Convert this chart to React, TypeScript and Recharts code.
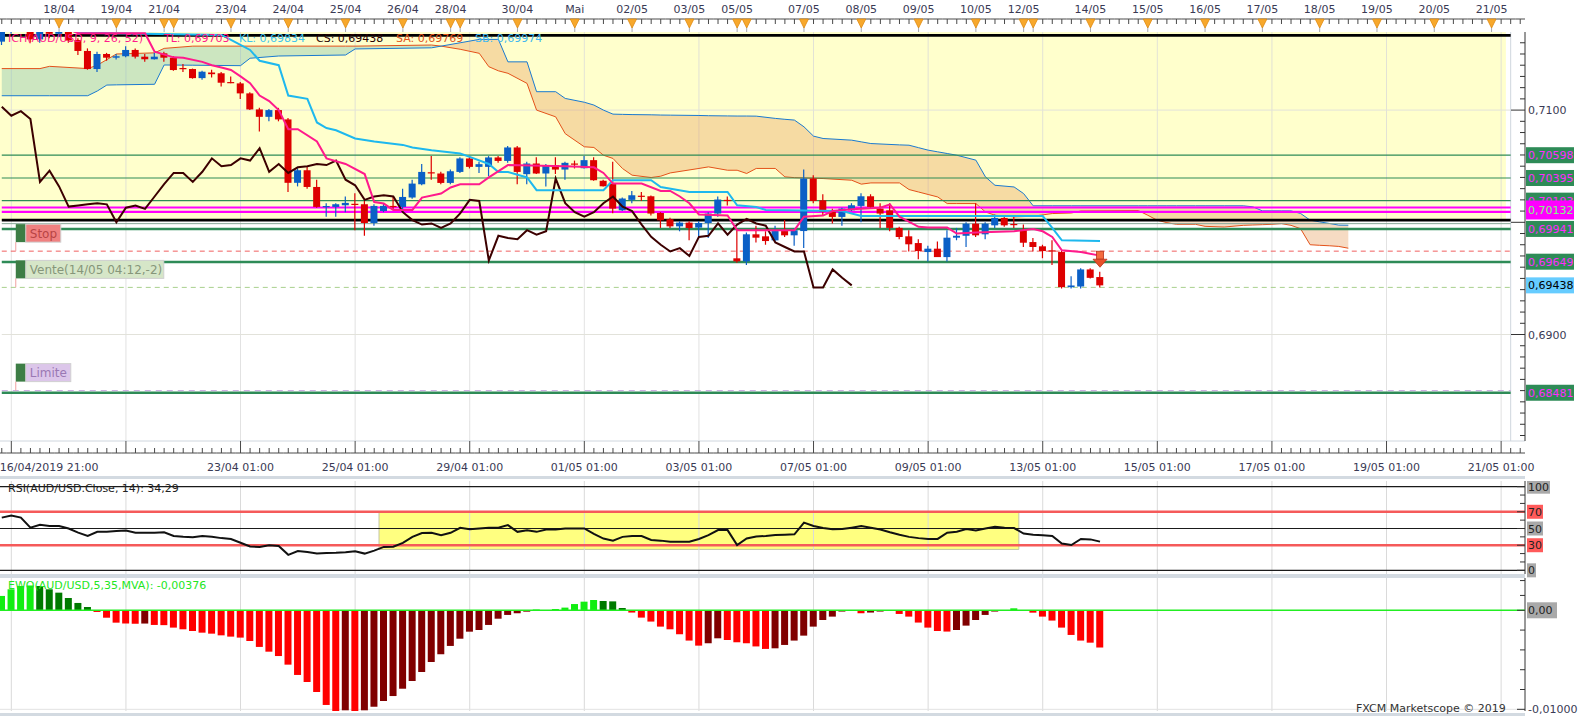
import React from "react";
import {
  ComposedChart,
  Bar,
  Line,
  Area,
  XAxis,
  YAxis,
  ReferenceLine,
  ReferenceArea,
  ReferenceDot,
  Cell,
} from "recharts";

const W = 1583;
const AXIS_W = 58;
const LEFT = -3;
const SLOTS = 160;
const SLOT_W = (W - LEFT - AXIS_W) / SLOTS;
const FONT = "'DejaVu Sans', Verdana, sans-serif";
const TEXT = "#3a3a55";
const PRICE_DOMAIN = [0.68051, 0.71696];

// AUD/USD 4h candles, slot 0 = 16/04/2019 21:00
const opens = [
  0.7161, 0.7172, 0.7176, 0.7178, 0.7163, 0.7172, 0.7168, 0.717, 0.71625, 0.71527,
  0.71366, 0.715, 0.71467, 0.7148, 0.71536, 0.71476, 0.71453, 0.71506, 0.71467, 0.71375,
  0.71366, 0.71285, 0.71335, 0.71328, 0.7125, 0.71238, 0.71149, 0.71006, 0.7094, 0.71,
  0.70917, 0.70352, 0.70464, 0.70315, 0.70135, 0.70137, 0.70152, 0.70165, 0.70161, 0.69994,
  0.70101, 0.70146, 0.70137, 0.70221, 0.70339, 0.70446, 0.70435, 0.70351, 0.70449, 0.70569,
  0.70494, 0.70494, 0.70578, 0.70547, 0.70667, 0.70429, 0.70524, 0.70435, 0.70509, 0.7047,
  0.70524, 0.70482, 0.70554, 0.7037, 0.70345, 0.70107, 0.702, 0.70237, 0.70232, 0.70083,
  0.70027, 0.69964, 0.69997, 0.69953, 0.69994, 0.70078, 0.702, 0.69679, 0.69652, 0.69893,
  0.69875, 0.69839, 0.69922, 0.69884, 0.69922, 0.7039, 0.70196, 0.70107, 0.70048, 0.70107,
  0.70146, 0.70232, 0.70122, 0.70107, 0.6995, 0.69875, 0.69815, 0.69735, 0.69765, 0.6969,
  0.69863, 0.6988, 0.69988, 0.69893, 0.69973, 0.70039, 0.69985, 0.69929, 0.69824, 0.69786,
  0.6975, 0.69735, 0.69422, 0.69428, 0.6958, 0.69512,
];
const highs = [
  0.7175, 0.718, 0.7185, 0.7182, 0.7175, 0.7178, 0.7176, 0.7174, 0.7164, 0.7155,
  0.7152, 0.7151, 0.715, 0.7157, 0.7155, 0.715, 0.7151, 0.7152, 0.7148, 0.7141,
  0.7137, 0.7135, 0.7136, 0.7134, 0.713, 0.7125, 0.7116, 0.7102, 0.7101, 0.7102,
  0.7093, 0.7048, 0.705, 0.7038, 0.7017, 0.7017, 0.7023, 0.7026, 0.7019, 0.7016,
  0.7017, 0.7023, 0.703, 0.7038, 0.7052, 0.7059, 0.7045, 0.7047, 0.7058, 0.7059,
  0.7054, 0.7059, 0.7059, 0.7068, 0.7068, 0.7054, 0.7058, 0.7052, 0.7058, 0.7054,
  0.7055, 0.7059, 0.7058, 0.7038, 0.7054, 0.7022, 0.7028, 0.7027, 0.7024, 0.7009,
  0.7004, 0.7001, 0.7001, 0.7001, 0.7009, 0.7023, 0.7023, 0.6994, 0.6991, 0.6997,
  0.6992, 0.6997, 0.7002, 0.6995, 0.7047, 0.7042, 0.7025, 0.7012, 0.7013, 0.7017,
  0.7026, 0.7025, 0.7017, 0.7017, 0.6996, 0.6993, 0.6985, 0.6979, 0.6983, 0.6993,
  0.6995, 0.7, 0.7017, 0.7, 0.7007, 0.7006, 0.7005, 0.6998, 0.6986, 0.698,
  0.6984, 0.6975, 0.6952, 0.6959, 0.6959, 0.6956,
];
const lows = [
  0.7158, 0.7168, 0.717, 0.716, 0.716, 0.7164, 0.7165, 0.716, 0.7149, 0.7136,
  0.7134, 0.7144, 0.7145, 0.7147, 0.7146, 0.7143, 0.7145, 0.7143, 0.7135, 0.7134,
  0.7128, 0.7127, 0.7129, 0.7121, 0.7124, 0.711, 0.71, 0.7081, 0.709, 0.709,
  0.7027, 0.7032, 0.703, 0.7013, 0.7005, 0.7005, 0.7009, 0.6993, 0.6988, 0.6997,
  0.7009, 0.7011, 0.7009, 0.7021, 0.7033, 0.7038, 0.7034, 0.7034, 0.7044, 0.7048,
  0.7044, 0.7041, 0.7053, 0.7053, 0.7034, 0.7034, 0.7043, 0.7032, 0.7043, 0.7038,
  0.7048, 0.7048, 0.7037, 0.7032, 0.7008, 0.701, 0.7017, 0.7019, 0.7006, 0.6995,
  0.6995, 0.6992, 0.6984, 0.6987, 0.6986, 0.7005, 0.7015, 0.6964, 0.6962, 0.6982,
  0.698, 0.6983, 0.6987, 0.6979, 0.6977, 0.7017, 0.7006, 0.6999, 0.6997, 0.701,
  0.7, 0.7012, 0.6995, 0.6992, 0.6985, 0.6974, 0.6967, 0.6965, 0.6969, 0.6965,
  0.6984, 0.6978, 0.6987, 0.6985, 0.6995, 0.6996, 0.6995, 0.6978, 0.6974, 0.6968,
  0.6962, 0.6941, 0.6941, 0.6941, 0.695, 0.6942,
];
const closes = [
  0.7172, 0.7176, 0.7178, 0.7163, 0.7172, 0.7168, 0.717, 0.7162, 0.71527, 0.71366,
  0.715, 0.71467, 0.7148, 0.71536, 0.71476, 0.71453, 0.71476, 0.71467, 0.71357, 0.71366,
  0.71285, 0.71342, 0.7132, 0.71244, 0.7124, 0.71149, 0.71006, 0.7094, 0.71, 0.70917,
  0.70352, 0.70464, 0.70315, 0.70137, 0.70145, 0.70161, 0.70173, 0.70155, 0.69994, 0.70146,
  0.70146, 0.70137, 0.70226, 0.70345, 0.70449, 0.70437, 0.70351, 0.70455, 0.70569, 0.70494,
  0.70518, 0.70578, 0.70547, 0.70667, 0.70449, 0.70524, 0.70435, 0.70509, 0.7047, 0.7053,
  0.70515, 0.70554, 0.70375, 0.70321, 0.70122, 0.70212, 0.70241, 0.7023, 0.70078, 0.70018,
  0.69964, 0.69997, 0.69949, 0.69994, 0.70078, 0.70203, 0.7019, 0.69652, 0.69893, 0.69863,
  0.69833, 0.69922, 0.69884, 0.69929, 0.7039, 0.7019, 0.70092, 0.70048, 0.70122, 0.70152,
  0.70232, 0.70137, 0.70078, 0.6995, 0.69869, 0.69804, 0.69744, 0.69765, 0.6969, 0.69863,
  0.6988, 0.69988, 0.69884, 0.69988, 0.70039, 0.69973, 0.69979, 0.69818, 0.6978, 0.69744,
  0.69741, 0.69422, 0.69437, 0.6958, 0.69505, 0.69438,
];

// Ichimoku lines as [slot, price]
const tenkanPts = [
  [0, 0.7172], [7, 0.7172], [8, 0.71685], [15, 0.71685], [16, 0.7152], [18, 0.7147], [19, 0.71467],
  [21, 0.7143], [22, 0.714], [23, 0.7138], [24, 0.71357], [25, 0.713], [26, 0.7124], [27, 0.7113],
  [28, 0.7108], [29, 0.71], [30, 0.7083], [31, 0.7083], [33, 0.7072], [34, 0.7057], [36, 0.7052],
  [38, 0.7043], [39, 0.7018], [40, 0.70167], [41, 0.7011], [43, 0.7011], [44, 0.7022], [46, 0.70256],
  [47, 0.7031], [48, 0.70339], [50, 0.70339], [51, 0.704], [53, 0.7051], [59, 0.705], [62, 0.7049],
  [63, 0.7044], [64, 0.70345], [67, 0.70345], [69, 0.7028], [70, 0.7028], [71, 0.7023], [72, 0.7017],
  [73, 0.7007], [76, 0.7006], [77, 0.6993], [83, 0.6993], [84, 0.7005], [86, 0.7006], [87, 0.701],
  [89, 0.70116], [92, 0.7013], [93, 0.7016], [94, 0.7005], [96, 0.6996], [97, 0.69953], [99, 0.69953],
  [100, 0.699], [102, 0.6991], [106, 0.6992], [108, 0.6994], [109, 0.6992], [110, 0.6987],
  [111, 0.6975], [113, 0.69735], [115, 0.69703],
];
const kijunPts = [
  [0, 0.7172], [7, 0.7172], [8, 0.7169], [23, 0.7167], [24, 0.71625], [26, 0.71536], [27, 0.7144],
  [29, 0.714], [30, 0.7113], [32, 0.711], [33, 0.7089], [34, 0.7084], [35, 0.7082], [37, 0.70747],
  [39, 0.7072], [42, 0.7069], [43, 0.70667], [45, 0.70643], [48, 0.70613], [49, 0.70583], [51, 0.7052],
  [52, 0.70449], [53, 0.70449], [55, 0.704], [56, 0.70286], [63, 0.70286], [64, 0.70375], [68, 0.70375],
  [69, 0.70315], [72, 0.7027], [76, 0.7027], [77, 0.70152], [79, 0.70137], [80, 0.7011], [88, 0.701],
  [90, 0.70056], [109, 0.70056], [110, 0.6995], [111, 0.69839], [115, 0.69834],
];
const chikou = [
  0.7103, 0.7095, 0.7099, 0.7092, 0.7036, 0.7046, 0.7032, 0.7014, 0.7015, 0.7016,
  0.7017, 0.7016, 0.7, 0.7013, 0.7015, 0.7012, 0.7023, 0.7034, 0.7044, 0.7044,
  0.7036, 0.7045, 0.7057, 0.705, 0.7051, 0.7057, 0.7055, 0.7066, 0.7045, 0.7052,
  0.7044, 0.7049, 0.705, 0.7052, 0.7051, 0.7055, 0.7038, 0.7033, 0.702, 0.7023,
  0.7024, 0.7023, 0.7009, 0.7002, 0.6998, 0.6999, 0.6995, 0.6999, 0.7008, 0.702,
  0.7019, 0.6966, 0.6988, 0.6986, 0.6985, 0.6993, 0.6989, 0.6992, 0.7039, 0.7017,
  0.7009, 0.7005, 0.7009, 0.7017, 0.7023, 0.7014, 0.701, 0.6998, 0.6987, 0.698,
  0.6974, 0.6977, 0.697, 0.6987, 0.6988, 0.6999, 0.6989, 0.6998, 0.7003, 0.6999,
  0.6997, 0.6982, 0.6978, 0.6974, 0.6974, 0.6942, 0.6942, 0.6958, 0.69505, 0.69438,
];
const cloudSlots = [
  0, 4, 5, 9, 10, 11, 12, 16, 17, 20, 25, 26, 29, 36, 37, 45, 46, 48, 50, 51,
  52, 53, 55, 56, 58, 59, 61, 62, 63, 64, 65, 66, 68, 69, 70, 73, 74, 76, 77, 78,
  79, 81, 82, 83, 84, 85, 86, 89, 90, 91, 94, 95, 96, 97, 98, 99, 100, 102, 103, 104,
  106, 107, 108, 110, 112, 113, 119, 120, 121, 122, 123, 125, 126, 128, 130, 131, 132, 133, 134, 135,
  136, 137, 138, 139, 140, 141,
];
const senkouA = [
  0.7137, 0.7137, 0.7139, 0.7137, 0.714, 0.7145, 0.715, 0.7151, 0.7155, 0.7157,
  0.7157, 0.7157, 0.7157, 0.7157, 0.7157, 0.7158, 0.7157, 0.71542, 0.71506, 0.71387,
  0.7135, 0.71328, 0.71238, 0.71, 0.7094, 0.7079, 0.70673, 0.70667, 0.70598, 0.70569,
  0.70479, 0.7042, 0.70399, 0.70411, 0.7044, 0.7048, 0.70494, 0.70464, 0.70464, 0.70435,
  0.7048, 0.7048, 0.70405, 0.70398, 0.70395, 0.70392, 0.7039, 0.70375, 0.7034, 0.70351,
  0.70351, 0.70292, 0.7027, 0.70248, 0.70226, 0.70167, 0.70167, 0.70167, 0.70092, 0.70063,
  0.70048, 0.70051, 0.70054, 0.70078, 0.70083, 0.70101, 0.70105, 0.70063, 0.70018, 0.69997,
  0.69982, 0.69982, 0.69964, 0.69958, 0.69973, 0.69976, 0.69979, 0.69982, 0.69988, 0.69973,
  0.69943, 0.698, 0.69795, 0.69791, 0.69785, 0.69769,
];
const senkouB = [
  0.71128, 0.71128, 0.71128, 0.71128, 0.7117, 0.71223, 0.71225, 0.7123, 0.71402, 0.714,
  0.71396, 0.71462, 0.71482, 0.71491, 0.71545, 0.71555, 0.7157, 0.716, 0.7163, 0.7163,
  0.7163, 0.7143, 0.7143, 0.71164, 0.71164, 0.71104, 0.7107, 0.71045, 0.71, 0.70964,
  0.70962, 0.7096, 0.70958, 0.70956, 0.70955, 0.70952, 0.7095, 0.70948, 0.70947, 0.70947,
  0.70946, 0.70926, 0.70918, 0.70911, 0.70851, 0.70768, 0.70747, 0.70732, 0.70717, 0.70702,
  0.7069, 0.70687, 0.70665, 0.70643, 0.70628, 0.70613, 0.70598, 0.70554, 0.70405, 0.7033,
  0.70315, 0.70256, 0.70147, 0.70147, 0.70147, 0.70147, 0.70147, 0.70147, 0.70147, 0.70147,
  0.70147, 0.70147, 0.70147, 0.70147, 0.70147, 0.70138, 0.70102, 0.70102, 0.70102, 0.70102,
  0.70079, 0.70019, 0.70004, 0.6999, 0.69975, 0.69974,
];

const rsi = [
  63, 65.5, 63, 51, 54.5, 53, 53, 50, 45, 41,
  46, 46, 47, 47.5, 45, 45, 45, 45.5, 41, 40,
  39.5, 41, 40, 38.5, 37.5, 33, 28.5, 28, 30, 29,
  18.5, 23, 21.8, 20, 20.8, 21, 21.5, 22.8, 20, 23.5,
  28, 28.2, 32.9, 40, 44.5, 44.9, 42, 44.9, 50.8, 49,
  50, 50.8, 50.8, 54, 46, 48, 46, 48.9, 48.9, 50,
  50.1, 50.1, 43.5, 38, 35.5, 40, 41, 41, 36.3, 35.5,
  34.1, 34.1, 34.1, 37.5, 42, 48.1, 48.1, 30.2, 38, 40.5,
  41, 42.1, 42.5, 43, 57, 53, 50.5, 49, 49.3, 51,
  52.9, 51, 48.9, 45.5, 42.5, 40, 38.5, 37.4, 37.5, 45,
  46.1, 49.3, 47.5, 50, 52, 51, 50.5, 44, 42.5, 41.8,
  41, 32, 30.2, 37.5, 37, 34.29,
];
const ewo = [
  0.00145, 0.00212, 0.00245, 0.0025, 0.00245, 0.00212, 0.00178, 0.00124, 0.00074, 0.00033,
  -0.00017, -0.00075, -0.00125, -0.00133, -0.00136, -0.00134, -0.00148, -0.0015, -0.00175, -0.00192,
  -0.00209, -0.00226, -0.00236, -0.00253, -0.00266, -0.00276, -0.0031, -0.0037, -0.00418, -0.00462,
  -0.00549, -0.00653, -0.00724, -0.00825, -0.00956, -0.0102, -0.0101, -0.0104, -0.0101, -0.00974,
  -0.00916, -0.00866, -0.00792, -0.00714, -0.00623, -0.00522, -0.00444, -0.0036, -0.00287, -0.00216,
  -0.00199, -0.00148, -0.00085, -0.00047, -0.0003, -0.00014, 0.00008, -0.00003, 0.00013, 0.00027,
  0.00063, 0.00087, 0.00104, 0.00094, 0.0009, 0.00023, -0.00023, -0.00074, -0.00114, -0.00165,
  -0.00192, -0.00242, -0.00306, -0.00357, -0.00333, -0.00283, -0.003, -0.00323, -0.00333, -0.00365,
  -0.0039, -0.00384, -0.0035, -0.00306, -0.00256, -0.00165, -0.00098, -0.00064, -0.00013, -0.00003,
  -0.0003, -0.00023, -0.00013, -0.00003, -0.00037, -0.00064, -0.00124, -0.00175, -0.00209, -0.00215,
  -0.00199, -0.00155, -0.00098, -0.00047, -0.00013, -0.00007, 0.0002, -0.00007, -0.00024, -0.00064,
  -0.00104, -0.00175, -0.00249, -0.00306, -0.00327, -0.00376,
];

// axis labels
const gridSlots = [1, 13, 25, 37, 49, 61, 73, 85, 97, 109, 121, 133, 145, 157];
const timeSlots = [0, 25, 37, 49, 61, 73, 85, 97, 109, 121, 133, 145, 157];
const timeLabels = [
  "16/04/2019 21:00", "23/04 01:00", "25/04 01:00", "29/04 01:00", "01/05 01:00", "03/05 01:00",
  "07/05 01:00", "09/05 01:00", "13/05 01:00", "15/05 01:00", "17/05 01:00", "19/05 01:00", "21/05 01:00",
];
const dateSlots = [
  6, 12, 17, 18, 24, 30, 36, 42, 47, 48, 54, 60, 66, 72, 77, 78, 84, 90, 96, 102,
  107, 108, 114, 120, 126, 132, 138, 144, 150, 156,
];
const dateLabels = [
  "18/04", "19/04", "21/04", "", "23/04", "24/04", "25/04", "26/04", "28/04", "",
  "30/04", "Mai", "02/05", "03/05", "05/05", "", "07/05", "08/05", "09/05", "10/05",
  "12/05", "", "14/05", "15/05", "16/05", "17/05", "18/05", "19/05", "20/05", "21/05",
];

// horizontal levels
const boxTop = 0.71666;
const boxBottom = 0.70019;
const thinLevels = [0.70598, 0.70395, 0.70193];
const pinkLevels = [0.70132, 0.70093];
const faintLevels = [0.69988];
const thickLevels = [0.69941, 0.69647, 0.68481];
const stopPrice = 0.69743;
const entryPrice = 0.6942;
const limitPrice = 0.685;
const arrowPrice = 0.69671;

const tagPrices = [0.70598, 0.70395, 0.70193, 0.70132, 0.69941, 0.69649, 0.69438, 0.68481];
const tagTexts = ["0,70598", "0,70395", "0,70193", "0,70132", "0,69941", "0,69649", "0,69438", "0,68481"];
const tagKinds = ["level", "level", "level", "pink", "level", "level", "last", "level"];
const majorPrices = [0.71, 0.7, 0.69];
const majorTexts = ["0,7100", "", "0,6900"];
const priceMinor = Array.from({ length: 36 }, (_, k) => +(0.681 + k * 0.001).toFixed(3));

const rsiTicks = [0, 10, 20, 30, 40, 50, 60, 70, 80, 90, 100];
const rsiTagValues = [100, 70, 50, 30, 0];
const ewoTicks = [0.003, 0.0015, 0, -0.002, -0.004, -0.006, -0.008, -0.01];

const tagStyles: Record<string, { bg: string; fg: string }> = {
  level: { bg: "#2e8b57", fg: "#ff2bff" },
  pink: { bg: "#ff00ff", fg: "#7dff7d" },
  last: { bg: "#66ccff", fg: "#000000" },
};

const rows: any[] = Array.from({ length: SLOTS }, (_, slot) => {
  const r: any = { slot };
  if (slot < closes.length) {
    r.o = opens[slot];
    r.h = highs[slot];
    r.l = lows[slot];
    r.c = closes[slot];
    r.range = [lows[slot], highs[slot]];
    r.rsi = rsi[slot];
    r.ewo = ewo[slot];
  }
  if (slot < chikou.length) r.chikou = chikou[slot];
  return r;
});
tenkanPts.forEach(([s, v]) => (rows[s].tenkan = v));
kijunPts.forEach(([s, v]) => (rows[s].kijun = v));
cloudSlots.forEach((s, k) => {
  const a = senkouA[k];
  const b = senkouB[k];
  rows[s].sa = a;
  rows[s].sb = b;
  if (a >= b) rows[s].bull = [b, a];
  if (b >= a) rows[s].bear = [a, b];
});

const ewoColor = (i: number) => {
  const v = ewo[i];
  const prev = i > 0 ? ewo[i - 1] : v - 1;
  if (v >= 0) return v > prev ? "#11ee11" : "#007a00";
  return v < prev ? "#ff0000" : "#800000";
};

function Candle(props: any) {
  const { x, y, width, height, payload } = props;
  if (!payload || payload.h == null) return <g />;
  const { o, h, l, c } = payload;
  const top = Math.min(y, y + height);
  const bot = Math.max(y, y + height);
  const span = h - l || 1e-9;
  const py = (p: number) => top + ((h - p) / span) * (bot - top);
  const color = c >= o ? "#0b5fc6" : "#dd0000";
  const cx = x + width / 2;
  const b1 = py(Math.max(o, c));
  const b2 = py(Math.min(o, c));
  return (
    <g>
      <line x1={cx} x2={cx} y1={top} y2={bot} stroke={color} strokeWidth={1.2} />
      <rect x={x} y={b1} width={width} height={Math.max(1.2, b2 - b1)} fill={color} />
    </g>
  );
}

function TopTick(props: any) {
  const { x, y, payload } = props;
  const k = dateSlots.indexOf(payload.value);
  const ay = y - 13;
  return (
    <g>
      <line x1={x - SLOT_W / 2} x2={x + SLOT_W / 2} y1={ay} y2={ay} stroke="#4a4a4a" />
      <line x1={x} x2={x} y1={ay} y2={ay + 5} stroke="#4a4a4a" />
      {k >= 0 && (
        <g>
          <line x1={x} x2={x} y1={ay} y2={y} stroke="#a8a8a8" />
          <path
            d={`M${x - 4.5},${ay} L${x + 4.5},${ay} L${x},${ay + 9} Z`}
            fill="#f7a82c"
            stroke="#e08a10"
            strokeWidth={0.8}
          />
          {dateLabels[k] && (
            <text x={x} y={ay - 6} textAnchor="middle" fontSize={11} fontFamily={FONT} fill={TEXT}>
              {dateLabels[k]}
            </text>
          )}
        </g>
      )}
    </g>
  );
}

function BottomTick(props: any) {
  const { x, y, payload } = props;
  const slot = payload.value;
  const ay = y + 12;
  const major = gridSlots.includes(slot);
  const k = timeSlots.indexOf(slot);
  return (
    <g>
      <line x1={x - SLOT_W / 2} x2={x + SLOT_W / 2} y1={ay} y2={ay} stroke="#4a4a4a" />
      <line x1={x} x2={x} y1={major ? y : ay - 5} y2={ay} stroke="#4a4a4a" />
      {k >= 0 && (
        <text
          x={k === 0 ? x - 2 : x}
          y={ay + 18}
          textAnchor={k === 0 ? "start" : "middle"}
          fontSize={11}
          fontFamily={FONT}
          fill={TEXT}
        >
          {timeLabels[k]}
        </text>
      )}
    </g>
  );
}

function PriceTick(props: any) {
  const { x, y, payload } = props;
  const v = payload.value;
  const t = tagPrices.findIndex((p) => Math.abs(p - v) < 1e-9);
  if (t >= 0) {
    const st = tagStyles[tagKinds[t]];
    const pink = tagKinds[t] === "pink";
    const h = pink ? 19 : 16;
    const top = pink ? y - 7 : y - 8;
    return (
      <g>
        <rect x={x + 1} y={top} width={48} height={h} fill={st.bg} />
        <text x={x + 3} y={top + h / 2 + 4} fontSize={11} fontFamily={FONT} fill={st.fg}>
          {tagTexts[t]}
        </text>
      </g>
    );
  }
  const m = majorPrices.findIndex((p) => Math.abs(p - v) < 1e-9);
  if (m >= 0) {
    return (
      <g>
        <line x1={x - 14} x2={x} y1={y} y2={y} stroke="#333" />
        {majorTexts[m] && (
          <text x={x + 3} y={y + 4} fontSize={11} fontFamily={FONT} fill={TEXT}>
            {majorTexts[m]}
          </text>
        )}
      </g>
    );
  }
  return <line x1={x - 5} x2={x} y1={y} y2={y} stroke="#333" />;
}

function RsiTick(props: any) {
  const { x, y, payload } = props;
  const v = payload.value;
  const k = rsiTagValues.indexOf(v);
  if (k < 0) return <line x1={x - 5} x2={x} y1={y} y2={y} stroke="#333" />;
  const txt = String(v);
  const red = v === 70 || v === 30;
  return (
    <g>
      <line x1={x - 8} x2={x} y1={y} y2={y} stroke="#333" />
      <rect x={x + 2} y={y - 7} width={txt.length * 7 + 2} height={14} fill={red ? "#ff5a5a" : "#a9a9a9"} />
      <text x={x + 3} y={y + 4} fontSize={11} fontFamily={FONT} fill="#222">
        {txt}
      </text>
    </g>
  );
}

function EwoTick(props: any) {
  const { x, y, payload } = props;
  const v = payload.value;
  if (v === 0) {
    return (
      <g>
        <line x1={x - 8} x2={x} y1={y} y2={y} stroke="#333" />
        <rect x={x + 2} y={y - 8} width={30} height={16} fill="#a9a9a9" />
        <text x={x + 3} y={y + 4} fontSize={11} fontFamily={FONT} fill="#222">
          0,00
        </text>
      </g>
    );
  }
  if (v === -0.01) {
    return (
      <g>
        <line x1={x - 8} x2={x} y1={y} y2={y} stroke="#333" />
        <text x={x + 3} y={y + 4} fontSize={11} fontFamily={FONT} fill={TEXT}>
          -0,01000
        </text>
      </g>
    );
  }
  return <line x1={x - 5} x2={x} y1={y} y2={y} stroke="#333" />;
}

function OrderTag(props: any) {
  const { viewBox, text, fill, color, width } = props;
  if (!viewBox) return null;
  const x = viewBox.x + 14;
  const y = viewBox.y;
  return (
    <g>
      <line x1={x} x2={x} y1={y - 9} y2={y} stroke="#f0a0a0" />
      <rect x={x} y={y - 27} width={10} height={18} fill="#3d7d45" />
      <rect x={x + 10} y={y - 27} width={width} height={18} fill={fill} stroke="#d0d0d0" />
      <text x={x + 14} y={y - 13.5} fontSize={12} fontFamily={FONT} fill={color}>
        {text}
      </text>
    </g>
  );
}

function SellArrow(props: any) {
  const { cx, cy } = props;
  return (
    <g>
      <rect x={cx - 3.5} y={cy - 8} width={7} height={8} fill="#f46c40" stroke="#b8321a" strokeWidth={0.8} />
      <path d={`M${cx - 7},${cy} L${cx + 7},${cy} L${cx},${cy + 8} Z`} fill="#e8502a" stroke="#b8321a" strokeWidth={0.8} />
    </g>
  );
}

const seg = (v: number) => [
  { x: 0, y: v },
  { x: 158, y: v },
];

const allSlots = rows.map((r) => r.slot);

export default function App() {
  return (
    <div style={{ position: "absolute", left: 0, top: 0, width: W, height: 720, background: "#fff", fontFamily: FONT }}>
      <div style={{ position: "absolute", left: 0, top: 476, width: 1525, height: 3, background: "#d3dae1" }} />
      <div style={{ position: "absolute", left: 0, top: 574, width: 1525, height: 4, background: "#d3dae1" }} />
      <div style={{ position: "absolute", left: 0, top: 713, width: 1525, height: 3, background: "#d3dae1" }} />

      {/* price panel */}
      <div style={{ position: "absolute", left: 0, top: 0 }}>
        <ComposedChart width={W} height={476} data={rows} margin={{ top: 0, right: 0, bottom: 0, left: LEFT }}>
          <XAxis
            xAxisId="top"
            orientation="top"
            dataKey="slot"
            type="category"
            scale="band"
            height={32}
            ticks={allSlots}
            interval={0}
            tick={<TopTick />}
            tickSize={0}
            tickMargin={0}
            axisLine={false}
            tickLine={false}
          />
          <XAxis
            xAxisId="bottom"
            dataKey="slot"
            type="category"
            scale="band"
            height={35}
            ticks={allSlots}
            interval={0}
            tick={<BottomTick />}
            tickSize={0}
            tickMargin={0}
            axisLine={{ stroke: "#cfd6de" }}
            tickLine={false}
          />
          <YAxis
            orientation="right"
            width={AXIS_W}
            domain={PRICE_DOMAIN}
            allowDataOverflow
            ticks={[...priceMinor, ...tagPrices]}
            interval={0}
            tick={<PriceTick />}
            tickSize={0}
            tickMargin={0}
            tickLine={false}
            axisLine={{ stroke: "#333" }}
          />

          <ReferenceArea
            xAxisId="bottom"
            x1={0}
            x2={157}
            y1={boxBottom}
            y2={PRICE_DOMAIN[1]}
            fill="#ffffcc"
            fillOpacity={1}
            stroke="none"
            zIndex={-300}
          />
          {gridSlots.map((s) => (
            <ReferenceLine key={`g${s}`} xAxisId="bottom" x={s} stroke="#d8d8d8" strokeOpacity={0.75} zIndex={-250} />
          ))}
          {[0.71, 0.69].map((v) => (
            <ReferenceLine key={`h${v}`} xAxisId="bottom" segment={seg(v)} stroke="#e2e2da" zIndex={-250} />
          ))}
          <ReferenceLine xAxisId="bottom" x={158} stroke="#cfd6de" zIndex={-250} />

          <Area xAxisId="bottom" dataKey="bull" type="linear" connectNulls stroke="none" fill="#80c0b0" fillOpacity={0.4} isAnimationActive={false} zIndex={-200} />
          <Area xAxisId="bottom" dataKey="bear" type="linear" connectNulls stroke="none" fill="#e8a060" fillOpacity={0.38} isAnimationActive={false} zIndex={-200} />
          <Line xAxisId="top" dataKey="sa" type="linear" connectNulls dot={false} stroke="#e4521a" strokeWidth={1} isAnimationActive={false} zIndex={-150} />
          <Line xAxisId="top" dataKey="sb" type="linear" connectNulls dot={false} stroke="#1a7ad0" strokeWidth={1} isAnimationActive={false} zIndex={-150} />

          {thinLevels.map((v) => (
            <ReferenceLine key={`t${v}`} xAxisId="bottom" segment={seg(v)} stroke="#2e8b57" strokeWidth={1.2} zIndex={-100} />
          ))}
          {faintLevels.map((v) => (
            <ReferenceLine key={`f${v}`} xAxisId="bottom" segment={seg(v)} stroke="#88a898" strokeWidth={1} zIndex={-100} />
          ))}
          {pinkLevels.map((v) => (
            <ReferenceLine key={`p${v}`} xAxisId="bottom" segment={seg(v)} stroke="#ff00ff" strokeWidth={2.2} zIndex={-100} />
          ))}
          {thickLevels.map((v) => (
            <ReferenceLine key={`k${v}`} xAxisId="bottom" segment={seg(v)} stroke="#2e8b57" strokeWidth={2.5} zIndex={-100} />
          ))}
          {[boxTop, boxBottom].map((v) => (
            <ReferenceLine key={`b${v}`} xAxisId="bottom" segment={seg(v)} stroke="#000" strokeWidth={2.6} zIndex={-100} />
          ))}
          <ReferenceLine
            xAxisId="bottom"
            segment={seg(stopPrice)}
            stroke="#f06060"
            strokeDasharray="5 4"
            zIndex={-90}
            label={<OrderTag text="Stop" fill="#f08080" color="#b84444" width={35} />}
          />
          <ReferenceLine
            xAxisId="bottom"
            segment={seg(entryPrice)}
            stroke="#a8d08c"
            strokeDasharray="5 4"
            zIndex={-90}
            label={<OrderTag text="Vente(14/05 04:12,-2)" fill="#d6e6c8" color="#86967a" width={138} />}
          />
          <ReferenceLine
            xAxisId="bottom"
            segment={seg(limitPrice)}
            stroke="#c8a4e0"
            strokeDasharray="6 5"
            zIndex={-90}
            label={<OrderTag text="Limite" fill="#dcc6ea" color="#9a78b4" width={45} />}
          />

          <Bar xAxisId="bottom" dataKey="range" barSize={7} shape={(p: any) => <Candle {...p} />} isAnimationActive={false} zIndex={300} />

          <Line xAxisId="bottom" dataKey="chikou" type="linear" dot={false} stroke="#3c0000" strokeWidth={2} isAnimationActive={false} zIndex={400} />
          <Line xAxisId="bottom" dataKey="kijun" type="linear" connectNulls dot={false} stroke="#1eb8ee" strokeWidth={2} isAnimationActive={false} zIndex={410} />
          <Line xAxisId="bottom" dataKey="tenkan" type="linear" connectNulls dot={false} stroke="#ff1a8c" strokeWidth={2} isAnimationActive={false} zIndex={420} />

          <ReferenceDot xAxisId="bottom" x={115} y={arrowPrice} r={0} shape={(p: any) => <SellArrow {...p} />} zIndex={600} />
        </ComposedChart>
      </div>

      {/* legend of the price panel */}
      <div style={{ position: "absolute", top: 32, left: 0, fontSize: 11, lineHeight: "14px", whiteSpace: "nowrap" }}>
        <span style={{ position: "absolute", left: 8, color: "#ff1a8c" }}>ICH(AUD/USD, 9, 26, 52)</span>
        <span style={{ position: "absolute", left: 164, color: "#ff1a8c" }}>TL: 0,69703</span>
        <span style={{ position: "absolute", left: 239, color: "#40c4f0" }}>KL: 0,69834</span>
        <span style={{ position: "absolute", left: 316, color: "#2a0000" }}>CS: 0,69438</span>
        <span style={{ position: "absolute", left: 396, color: "#e2541c" }}>SA: 0,69769</span>
        <span style={{ position: "absolute", left: 475, color: "#40b8f0" }}>SB: 0,69974</span>
      </div>

      {/* RSI panel */}
      <div style={{ position: "absolute", left: 0, top: 481 }}>
        <ComposedChart width={W} height={97} data={rows} margin={{ top: 0, right: 0, bottom: 4, left: LEFT }}>
          <XAxis dataKey="slot" type="category" scale="band" hide />
          <YAxis
            orientation="right"
            width={AXIS_W}
            domain={[-4.4, 106.8]}
            allowDataOverflow
            ticks={rsiTicks}
            interval={0}
            tick={<RsiTick />}
            tickSize={0}
            tickMargin={0}
            tickLine={false}
            axisLine={{ stroke: "#333" }}
          />
          <ReferenceArea x1={40} x2={106} y1={25} y2={70} fill="#ffff80" fillOpacity={1} stroke="#c4c4a8" zIndex={-300} />
          {gridSlots.map((s) => (
            <ReferenceLine key={`rg${s}`} x={s} stroke="#dadada" zIndex={-250} />
          ))}
          {[100, 50, 0].map((v) => (
            <ReferenceLine key={`rb${v}`} y={v} stroke="#1a1a1a" strokeWidth={1.2} zIndex={-100} />
          ))}
          {[70, 30].map((v) => (
            <ReferenceLine key={`rr${v}`} y={v} stroke="#f55a5a" strokeWidth={2.4} zIndex={-100} />
          ))}
          <Line dataKey="rsi" type="linear" dot={false} stroke="#111" strokeWidth={2} isAnimationActive={false} />
        </ComposedChart>
      </div>
      <div style={{ position: "absolute", left: 8, top: 482, fontSize: 11, lineHeight: "14px", color: "#222", whiteSpace: "nowrap" }}>
        RSI(AUD/USD.Close, 14): 34,29
      </div>

      {/* EWO panel */}
      <div style={{ position: "absolute", left: 0, top: 578 }}>
        <ComposedChart width={W} height={141} data={rows} margin={{ top: 0, right: 0, bottom: 8, left: LEFT }}>
          <XAxis dataKey="slot" type="category" scale="band" hide />
          <YAxis
            orientation="right"
            width={AXIS_W}
            domain={[-0.01017, 0.00326]}
            allowDataOverflow
            ticks={ewoTicks}
            interval={0}
            tick={<EwoTick />}
            tickSize={0}
            tickMargin={0}
            tickLine={false}
            axisLine={{ stroke: "#333" }}
          />
          {gridSlots.map((s) => (
            <ReferenceLine key={`eg${s}`} x={s} stroke="#dadada" zIndex={-250} />
          ))}
          <ReferenceLine y={-0.01} stroke="#e2e2e2" zIndex={-250} />
          <Bar dataKey="ewo" barSize={7} isAnimationActive={false}>
            {rows.map((r, i) => (
              <Cell key={i} fill={i < ewo.length ? ewoColor(i) : "none"} />
            ))}
          </Bar>
          <ReferenceLine y={0} stroke="#22ee22" strokeWidth={1.6} zIndex={500} />
        </ComposedChart>
      </div>
      <div style={{ position: "absolute", left: 8, top: 579, fontSize: 11, lineHeight: "14px", color: "#22e622", whiteSpace: "nowrap" }}>
        EWO(AUD/USD,5,35,MVA): -0,00376
      </div>

      <div style={{ position: "absolute", left: 1356, top: 702, fontSize: 11, lineHeight: "14px", color: "#333", whiteSpace: "nowrap" }}>
        FXCM Marketscope © 2019
      </div>
    </div>
  );
}
